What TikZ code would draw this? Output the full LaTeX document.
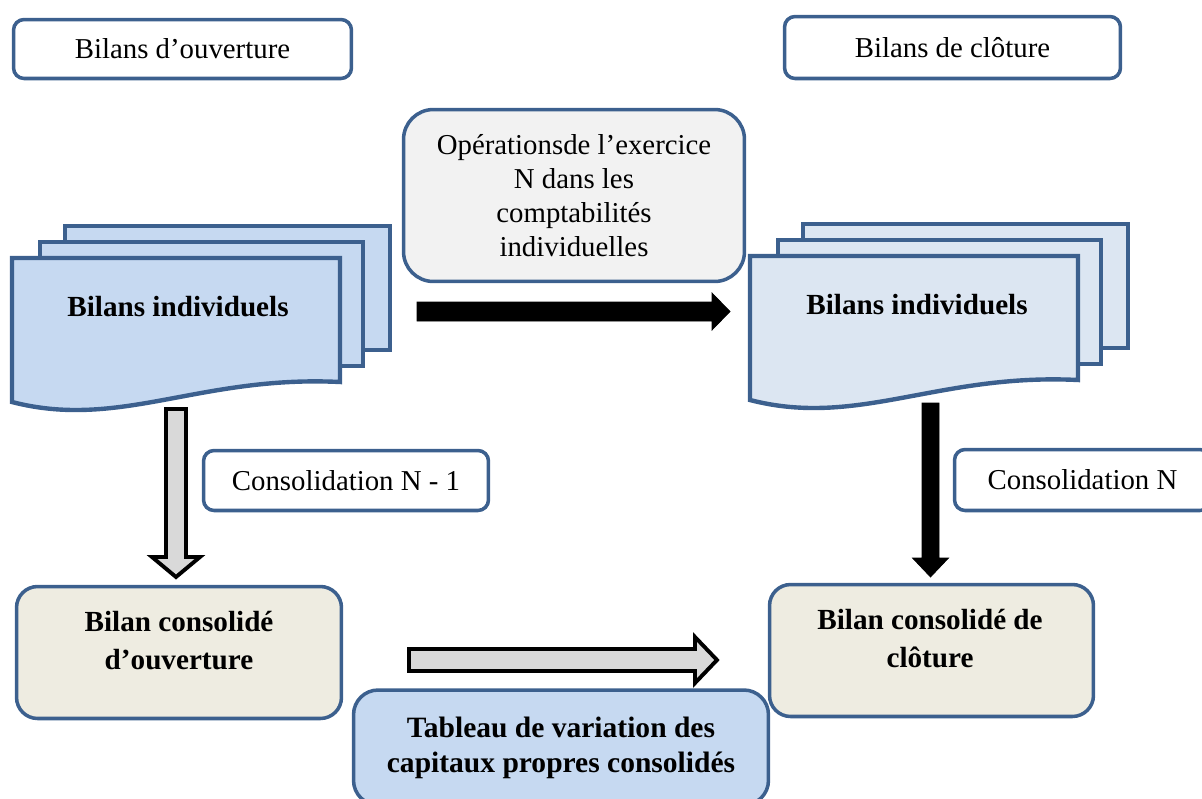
\documentclass[tikz,border=0pt]{standalone}
\usepackage{fontspec}
\setmainfont{Liberation Serif}
\definecolor{frameblue}{RGB}{60,96,142}
\definecolor{docblue}{RGB}{198,217,241}
\definecolor{docpale}{RGB}{220,230,242}
\definecolor{beige}{RGB}{238,236,225}
\definecolor{opgray}{RGB}{242,242,242}
\definecolor{arrowgray}{RGB}{217,217,217}
\newcommand{\regtext}{\fontsize{16.4}{19.4}\selectfont}
\newcommand{\boldtext}{\fontsize{16.6}{21.6}\selectfont\bfseries}
% block arrows: style, tail, head start, tip, axis, half shaft, half head
\newcommand{\harrow}[7]{\draw[#1] (#2,{#5-#6}) -- (#3,{#5-#6}) -- (#3,{#5-#7}) -- (#4,#5)
  -- (#3,{#5+#7}) -- (#3,{#5+#6}) -- (#2,{#5+#6}) -- cycle;}
\newcommand{\varrow}[7]{\draw[#1] ({#5-#6},#2) -- ({#5-#6},#3) -- ({#5-#7},#3) -- (#5,#4)
  -- ({#5+#7},#3) -- ({#5+#6},#3) -- ({#5+#6},#2) -- cycle;}
\newcommand{\docstack}[1]{%
  \draw[docline,fill=#1] (65,226) rectangle (390,350);
  \draw[docline,fill=#1] (40,242) rectangle (363,366);
  \draw[docline,fill=#1] (12,258) -- (340,258) -- (340,382)
    .. controls (200,375) and (120,430) .. (12,402) -- cycle;
}
\tikzset{
  smallbox/.style={draw=frameblue,line width=2pt,rounded corners=6pt,fill=white,
    inner sep=0pt,font=\regtext},
  bigbox/.style={draw=frameblue,line width=2pt,inner sep=0pt,align=center},
  docline/.style={draw=frameblue,line width=2.5pt,line join=miter},
  boldtxt/.style={font=\boldtext,align=center,inner sep=0pt},
  blockarrow/.style={draw=black,line width=2.2pt,fill=arrowgray,line join=miter},
  solidarrow/.style={fill=black}
}

\begin{document}
\begin{tikzpicture}[x=0.02cm,y=-0.02cm]
\useasboundingbox (0,0) rectangle (1202,798);

%% ---------------- top labels ----------------
\node[smallbox,minimum width=6.76cm,minimum height=1.18cm] (ouv) at (182.5,49) {Bilans d’ouverture};
\node[smallbox,minimum width=6.72cm,minimum height=1.24cm] (clot) at (952.5,47.5) {Bilans de clôture};
\node[bigbox,fill=opgray,rounded corners=17pt,font=\regtext,
  minimum width=6.82cm,minimum height=3.44cm] (oper) at (574,195.5)
  {Opérationsde l’exercice\\N dans les\\comptabilités\\individuelles};

%% ---------------- individual balance sheets ----------------
\docstack{docblue}
\node[boldtxt] (indivL) at (178,307) {Bilans individuels};
\begin{scope}[shift={(738,-2)}]
  \docstack{docpale}
\end{scope}
\node[boldtxt] (indivR) at (917,305) {Bilans individuels};

%% ---------------- arrows ----------------
\harrow{solidarrow}{417}{712}{730}{311.5}{9.5}{18.5}
\varrow{blockarrow}{409}{557}{577}{176}{10}{24}
\varrow{solidarrow}{403}{558}{577}{930.5}{8.5}{18}
\harrow{blockarrow}{409}{695}{717}{660}{11}{23}

\node[smallbox,minimum width=5.7cm,minimum height=1.2cm] (cnm) at (346,480.5) {Consolidation N - 1};
\node[smallbox,minimum width=5.12cm,minimum height=1.22cm] (cn) at (1082.5,480) {Consolidation N};

%% ---------------- consolidated balance sheets ----------------
\node[bigbox,fill=beige,rounded corners=12pt,minimum width=6.5cm,minimum height=2.64cm] (bco) at (179,652.5) {};
\node[boldtxt] (bcotxt) at (179,641) {Bilan consolidé\\d’ouverture};
\node[bigbox,fill=beige,rounded corners=12pt,minimum width=6.48cm,minimum height=2.64cm] (bcl) at (931.5,650.5) {};
\node[boldtxt] (bcltxt) at (930,639) {Bilan consolidé de\\clôture};
\node[bigbox,fill=docblue,rounded corners=14pt,font=\fontsize{16.8}{20}\selectfont\bfseries,
  minimum width=8.3cm,minimum height=2.3cm] (tab) at (561,747.5)
  {Tableau de variation des\\capitaux propres consolidés};

\end{tikzpicture}
\end{document}
